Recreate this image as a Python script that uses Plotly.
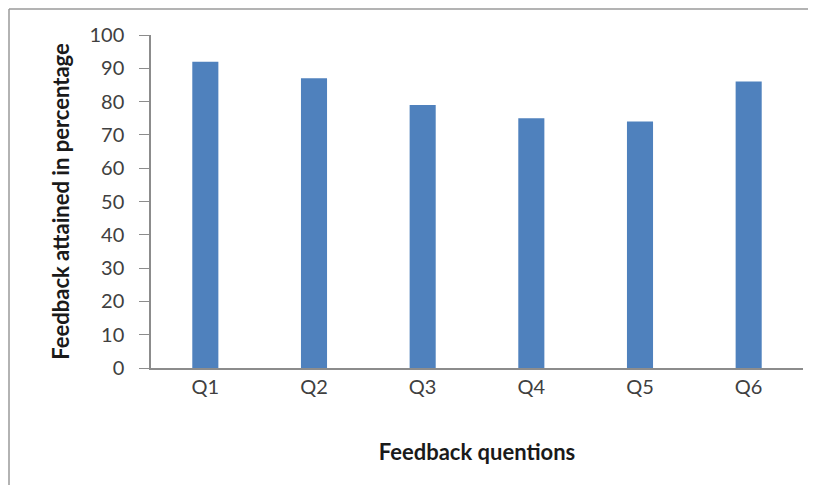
import plotly.graph_objects as go

categories = ["Q1", "Q2", "Q3", "Q4", "Q5", "Q6"]
values = [92, 87, 79, 75, 74, 86]
y_ticks = [0, 10, 20, 30, 40, 50, 60, 70, 80, 90, 100]

fig = go.Figure()
fig.add_trace(go.Bar(
    x=categories, y=values,
    marker=dict(color="#4F81BD", line=dict(width=0)),
    showlegend=False,
))

font_family = "Lato, 'Open Sans', sans-serif"

# page has an 8px body offset; plot area in page coords: x 151..803, y 35..368
W, H = 808, 477
L, T, R, B = 143, 27, 13, 117
pw = W - L - R
ph = H - T - B

frame_x = (1 - L) / pw
frame_y = (H - B - 1) / ph

fig.update_layout(
    width=W, height=H,
    margin=dict(l=L, r=R, t=T, b=B),
    paper_bgcolor="white", plot_bgcolor="white",
    bargap=0.76,
    font=dict(family=font_family, size=20, color="#404040"),
    xaxis=dict(
        showline=True, linecolor="#8c8c8c", linewidth=1.5,
        ticks="", showgrid=False,
        tickfont=dict(size=20, color="#404040"),
        ticklabelstandoff=0,
        title=dict(text="<b>Feedback quentions</b>", font=dict(size=22, color="#1a1a1a"), standoff=48),
    ),
    yaxis=dict(
        range=[0, 100], tickvals=y_ticks,
        showline=True, linecolor="#8c8c8c", linewidth=1.5,
        ticks="outside", ticklen=10, tickcolor="#8c8c8c",
        showgrid=False, zeroline=False,
        tickfont=dict(size=20, color="#404040"),
        ticklabelstandoff=11,
        title=dict(text="<b>Feedback attained in percentage</b>", font=dict(size=22, color="#1a1a1a"), standoff=14),
    ),
    shapes=[
        dict(type="line", xref="paper", yref="paper",
             x0=frame_x, x1=(W - L) / pw, y0=frame_y, y1=frame_y,
             line=dict(color="#9a9a9a", width=1.5), layer="below"),
        dict(type="line", xref="paper", yref="paper",
             x0=frame_x, x1=frame_x, y0=frame_y, y1=-(B) / ph,
             line=dict(color="#9a9a9a", width=1.5), layer="below"),
    ],
)

fig.write_html("out.html")
